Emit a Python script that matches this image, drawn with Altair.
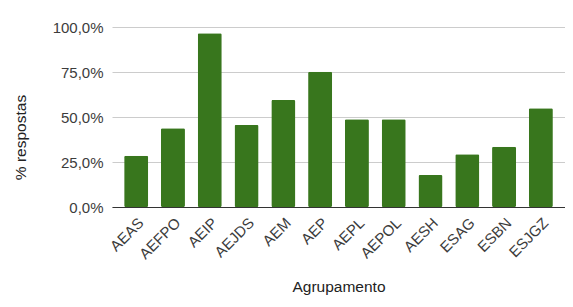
import altair as alt
import pandas as pd

categorias = ["AEAS", "AEFPO", "AEIP", "AEJDS", "AEM", "AEP", "AEPL", "AEPOL", "AESH", "ESAG", "ESBN", "ESJGZ"]
respostas = [0.285, 0.437, 0.965, 0.456, 0.594, 0.752, 0.487, 0.487, 0.178, 0.293, 0.335, 0.548]
y_ticks = [0, 0.25, 0.5, 0.75, 1.0]

df = pd.DataFrame({"Agrupamento": categorias, "respostas": respostas})

FONT = "Liberation Sans"

chart = alt.Chart(df).mark_bar(
    color="#38761d", cornerRadius=1.5
).encode(
    x=alt.X(
        "Agrupamento:N",
        sort=categorias,
        scale=alt.Scale(paddingInner=0.347, paddingOuter=0.33),
        axis=alt.Axis(
            title="Agrupamento",
            labelAngle=-45,
            labelFontSize=15,
            labelColor="#3c3c3c",
            labelFont=FONT,
            ticks=False,
            labelPadding=8,
            domainColor="#333333",
            domainWidth=1,
            titleFontSize=15.5,
            titleFontWeight="normal",
            titleColor="#222222",
            titleFont=FONT,
            titleY=79,
            titleBaseline="middle",
            grid=False,
        ),
    ),
    y=alt.Y(
        "respostas:Q",
        scale=alt.Scale(domain=[0, 1.0], nice=False),
        axis=alt.Axis(
            title="% respostas",
            values=y_ticks,
            labelExpr="replace(format(datum.value, '.1%'), '.', ',')",
            labelFontSize=15,
            labelColor="#3c3c3c",
            labelFont=FONT,
            ticks=False,
            domain=False,
            labelPadding=9,
            gridColor="#cccccc",
            gridWidth=1,
            titleFontSize=15.5,
            titleFontWeight="normal",
            titleColor="#222222",
            titleFont=FONT,
            titleX=-92,
            titleY=110,
            titleBaseline="middle",
            titleAngle=-90,
        ),
    ),
).properties(
    width=453,
    height=180,
    autosize=alt.AutoSizeParams(type="none"),
    padding={"left": 104, "top": 19, "right": 0, "bottom": 90},
).configure_view(stroke=None)

chart.save("out.html", embed_options={"renderer": "svg", "actions": False})
